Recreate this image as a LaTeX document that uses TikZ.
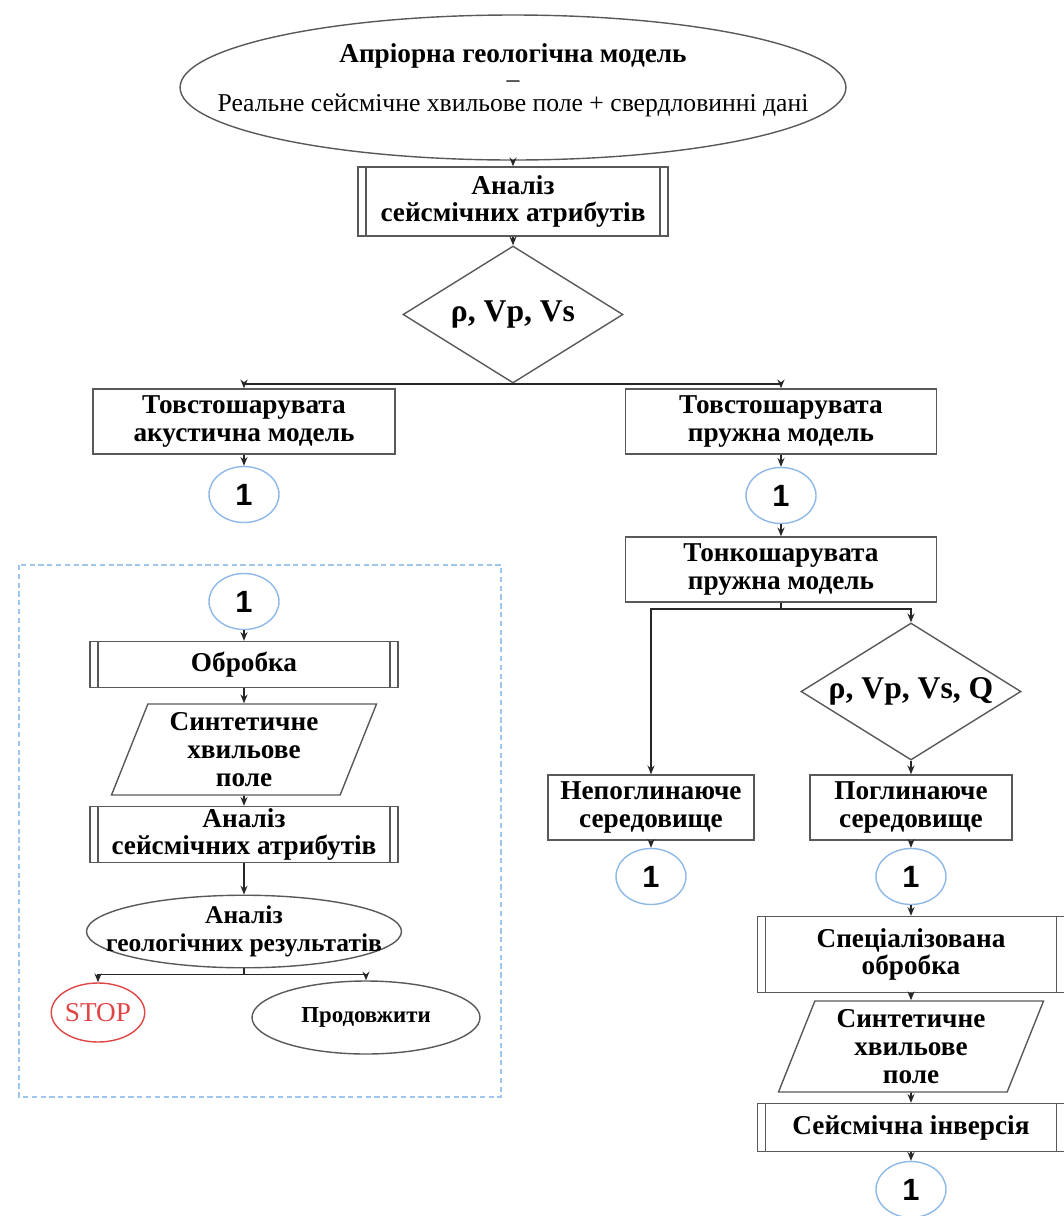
\documentclass[tikz,border=0pt]{standalone}
\usepackage{fontspec}
\setmainfont{Liberation Serif}
\newfontfamily\numfont{Liberation Sans}
\usetikzlibrary{shapes.geometric, arrows.meta, positioning}

\definecolor{edgegray}{HTML}{595959}
\definecolor{linkblue}{HTML}{8DB8E8}
\definecolor{frameblue}{HTML}{9EC5EA}
\definecolor{stopred}{HTML}{E04545}

\tikzstyle{startstop} = [ellipse, draw=edgegray, line width=0.8pt, inner sep=0pt, align=center, font=\bfseries\fontsize{14.5}{16}\selectfont]
\tikzstyle{process} = [rectangle, draw=edgegray, line width=0.8pt, minimum height=1.3cm, inner sep=0pt, align=center, font=\bfseries\fontsize{15.5}{15.5}\selectfont]
\tikzstyle{predef} = [process, path picture={
    \draw [edgegray, line width=0.8pt] ([xshift=0.16cm]path picture bounding box.north west) -- ([xshift=0.16cm]path picture bounding box.south west);
    \draw [edgegray, line width=0.8pt] ([xshift=-0.16cm]path picture bounding box.north east) -- ([xshift=-0.16cm]path picture bounding box.south east);}]
\tikzstyle{io} = [trapezium, trapezium left angle=64, trapezium right angle=116, trapezium stretches body, draw=edgegray, line width=0.8pt, minimum width=5.3cm, minimum height=1.82cm, inner sep=0pt, align=center, font=\bfseries\fontsize{15.5}{16}\selectfont]
\tikzstyle{decision} = [diamond, aspect=1.6, draw=edgegray, line width=0.8pt, minimum width=4.4cm, minimum height=2.74cm, inner sep=0pt, font=\bfseries\fontsize{18}{18}\selectfont]
\tikzstyle{link} = [ellipse, draw=linkblue, line width=0.8pt, minimum width=1.4cm, minimum height=1.12cm, inner sep=0pt, font=\numfont\bfseries\fontsize{17.5}{17.5}\selectfont]
\tikzstyle{arrow} = [line width=0.9pt, draw=black!85, -{Stealth[length=5pt, width=4pt]}]

\begin{document}
\begin{tikzpicture}[node distance=2.2cm]
    \useasboundingbox (0,0) rectangle (21.28,-24.32);

    % main column
    \node (start) [startstop, inner xsep=-1.2cm, minimum width=12.92cm, minimum height=2.9cm, font=\fontsize{14.6}{14}\selectfont] at (10.26,-1.75) {{\fontsize{15.5}{14}\selectfont\bfseries Апріорна геологічна модель}\\ –\\ Реальне сейсмічне хвильове поле + свердловинні дані\\[-3pt]};
    \node (analysis1) [predef, below of=start, yshift=-0.08cm, minimum width=6.2cm, minimum height=1.38cm] {Аналіз\\ сейсмічних атрибутів};
    \node (decision1) [decision, below of=analysis1, yshift=-0.06cm] {ρ, Vp, Vs};

    \node (thick1) [process, below of=decision1, xshift=-5.38cm, yshift=0.06cm, minimum width=6.04cm] {Товстошарувата\\ акустична модель};
    \node (thick2) [process, below of=decision1, xshift=5.36cm, yshift=0.06cm, minimum width=6.22cm] {Товстошарувата\\ пружна модель};

    \draw [arrow] (start) -- (analysis1);
    \draw [arrow] (analysis1) -- (decision1);
    \draw [arrow] (decision1.south) -| (thick1.north);
    \draw [arrow] (decision1.south) -| (thick2.north);

    \node (link1) [link, below of=thick1, yshift=0.74cm] {1};
    \node (link2) [link, below of=thick2, yshift=0.72cm] {1};
    \node (thin) [process, below of=link2, yshift=0.72cm, minimum width=6.22cm] {Тонкошарувата\\ пружна модель};

    \draw [arrow] (thick1) -- (link1);
    \draw [arrow] (thick2) -- (link2);
    \draw [arrow] (link2) -- (thin);

    % right branch
    \node (decision2) [decision, below of=thin, xshift=2.6cm, yshift=-0.24cm] {ρ, Vp, Vs, Q};
    \node (nonabs) [process, below of=thin, xshift=-2.6cm, yshift=-2.56cm, minimum width=4.12cm] {Непоглинаюче\\ середовище};
    \node (abs) [process, below of=decision2, yshift=-0.12cm, minimum width=4.04cm] {Поглинаюче\\ середовище};
    \node (link3) [link, below of=nonabs, yshift=0.82cm] {1};
    \node (link4) [link, below of=abs, yshift=0.82cm] {1};

    \draw [arrow] (thin.south) -- ++(0,-0.12) -| (nonabs.north);
    \draw [arrow] (thin.south) -- ++(0,-0.12) -| (decision2.north);
    \draw [arrow] (decision2) -- (abs);
    \draw [arrow] (nonabs) -- (link3);
    \draw [arrow] (abs) -- (link4);

    \node (special) [predef, below of=link4, yshift=0.64cm, minimum width=6.14cm, minimum height=1.52cm] {Спеціалізована\\ обробка};
    \node (synth2) [io, below of=special, yshift=0.36cm] {Синтетичне\\ хвильове\\ поле};
    \node (inversion) [predef, below of=synth2, yshift=0.58cm, minimum width=6.14cm, minimum height=0.96cm] {Сейсмічна інверсія};
    \node (link5) [link, below of=inversion, yshift=0.96cm] {1};

    \draw [arrow] (link4) -- (special);
    \draw [arrow] (special) -- (synth2);
    \draw [arrow] (synth2) -- (inversion);
    \draw [arrow] (inversion) -- (link5);

    % left panel
    \draw [frameblue, line width=0.8pt, dash pattern=on 3pt off 2pt] (0.38,-11.3) rectangle (10.02,-21.94);

    \node (link6) [link, below of=link1, yshift=0.06cm] {1};
    \node (processing) [predef, below of=link6, yshift=0.94cm, minimum width=6.16cm, minimum height=0.92cm] {Обробка};
    \node (synth1) [io, below of=processing, yshift=0.5cm] {Синтетичне\\ хвильове\\ поле};
    \node (analysis2) [predef, below of=synth1, yshift=0.5cm, minimum width=6.16cm, minimum height=1.12cm] {Аналіз\\ сейсмічних атрибутів};
    \node (geo) [startstop, below of=analysis2, yshift=0.26cm, inner xsep=-0.55cm, minimum width=6.3cm, minimum height=1.34cm] {Аналіз\\ геологічних результатів};
    \node (stop) [ellipse, draw=stopred, text=stopred, line width=0.8pt, minimum width=1.38cm, minimum height=1.18cm, inner sep=0pt, font=\fontsize{15.5}{15.5}\selectfont, below of=geo, xshift=-2.92cm, yshift=0.58cm] {STOP};
    \node (cont) [startstop, below of=geo, xshift=2.44cm, yshift=0.48cm, minimum width=4.56cm, minimum height=1.46cm, font=\bfseries\fontsize{13}{13}\selectfont] {Продовжити};

    \draw [arrow] (link6) -- (processing);
    \draw [arrow] (processing) -- (synth1);
    \draw [arrow] (synth1) -- (analysis2);
    \draw [arrow] (analysis2) -- (geo);
    \draw [arrow] (geo.south) -- ++(0,-0.12) -| (stop.north);
    \draw [arrow] (geo.south) -- ++(0,-0.12) -| (cont.north);

\end{tikzpicture}
\end{document}
